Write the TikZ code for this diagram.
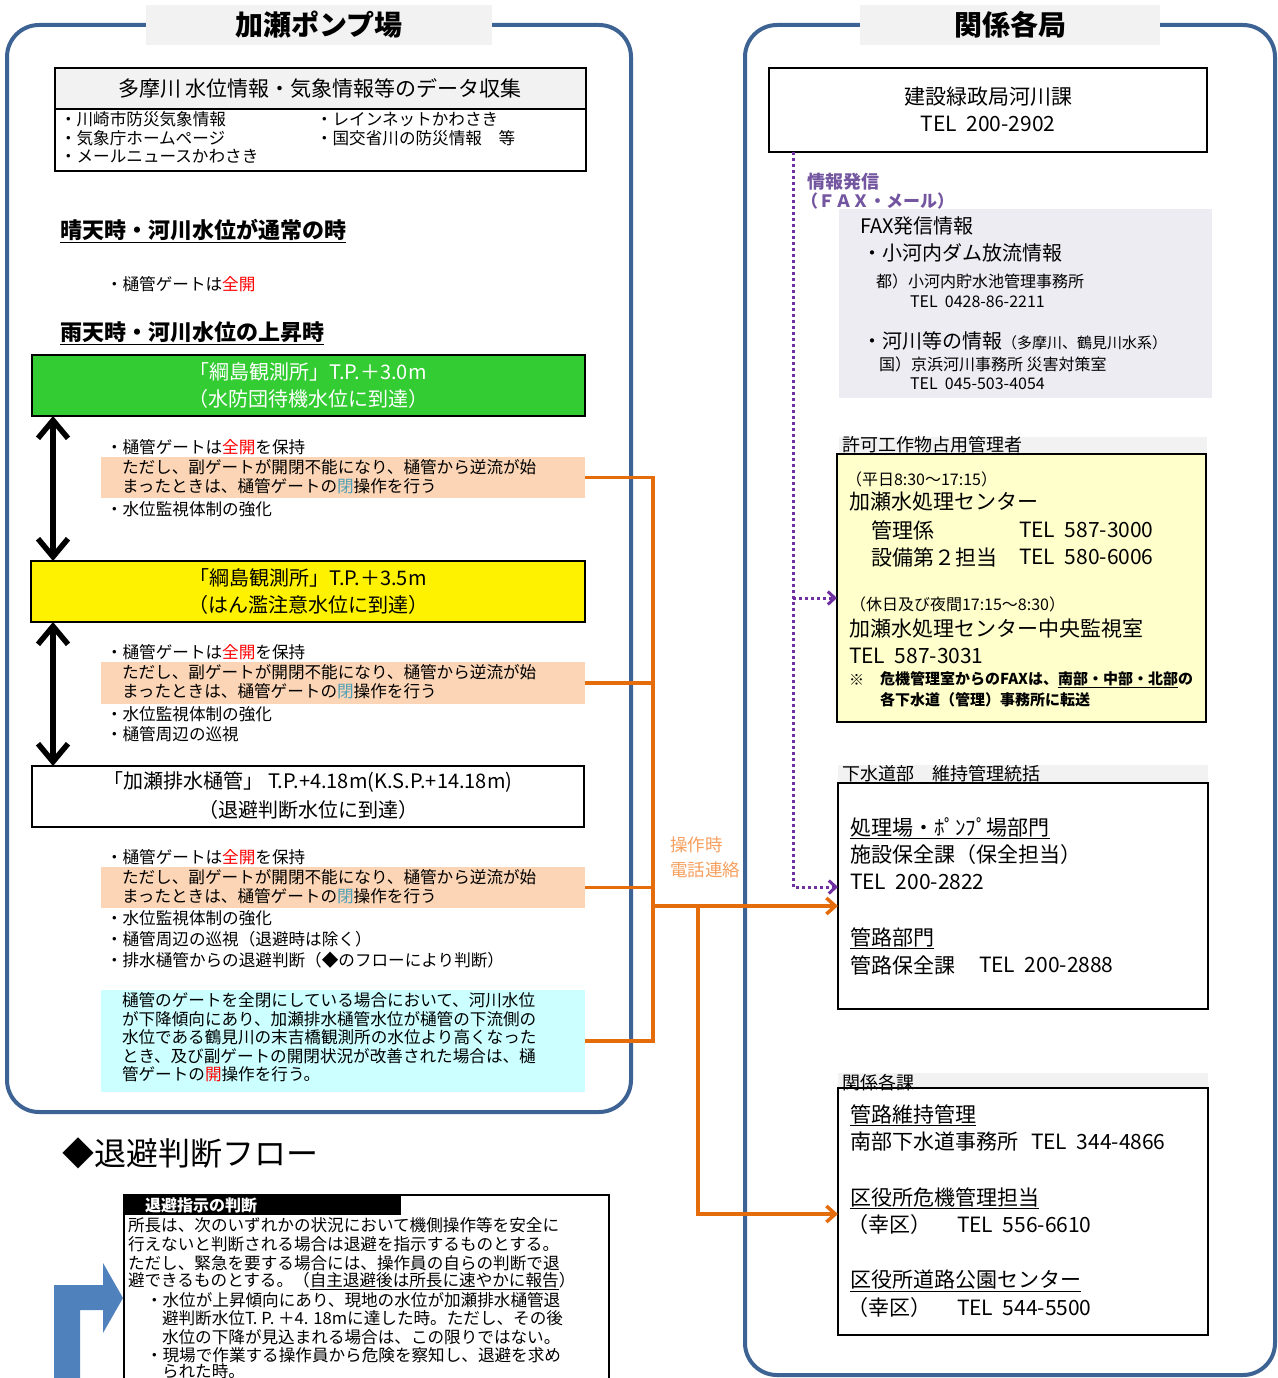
\documentclass[tikz,border=0pt]{standalone}
\usepackage{fontspec}
\setmainfont{Noto Sans CJK JP}
\usetikzlibrary{arrows.meta}
\newcommand\fsz[1]{\fontsize{#1pt}{#1pt}\selectfont}
\definecolor{panelblue}{RGB}{61,99,148}
\definecolor{titlegray}{RGB}{242,242,242}
\definecolor{boxgreen}{RGB}{51,204,51}
\definecolor{peach}{RGB}{251,213,181}
\definecolor{lcyan}{RGB}{204,255,255}
\definecolor{orng}{RGB}{228,108,10}
\definecolor{lorng}{RGB}{247,160,95}
\definecolor{purp}{RGB}{112,48,160}
\definecolor{purptext}{RGB}{115,85,160}
\definecolor{faxgray}{RGB}{238,236,243}
\definecolor{lyellow}{RGB}{255,255,204}
\definecolor{gatebl}{RGB}{80,160,185}
\definecolor{arrblue}{RGB}{79,129,189}
\definecolor{myred}{RGB}{255,0,0}
\begin{document}
\begin{tikzpicture}[x=1pt,y=-1pt,
  every node/.style={inner sep=0pt,outer sep=0pt},
  ln/.style={anchor=west},
  sm/.style={ln,font=\fsz{16.6}},
  rt/.style={ln,font=\fsz{21}},
  rs/.style={ln,font=\fsz{16}},
  panel/.style={draw=panelblue,line width=4pt,rounded corners=32pt},
  ttl/.style={fill=titlegray,minimum height=40pt,font=\fsz{28}\bfseries},
  bbox/.style={draw=black,line width=2pt},
  lab/.style={fill=titlegray,minimum width=370pt},
  band/.style={minimum width=484pt},
  oline/.style={draw=orng,line width=3.5pt},
  oarr/.style={oline,-{Straight Barb[length=9pt,width=16pt]}},
  pdot/.style={draw=purp,line width=3pt,dash pattern=on 3pt off 3pt},
  parr/.style={pdot,-{Straight Barb[length=7pt,width=13pt]}},
  dbl/.style={line width=5.5pt,{Straight Barb[length=18pt,width=30pt]}-{Straight Barb[length=18pt,width=30pt]}}
]
\useasboundingbox (0,0) rectangle (1277,1378);
\fill[white] (0,0) rectangle (1277,1378);

% ---------------- left panel ----------------
\draw[panel] (7,25) rectangle (631,1112);
\node[ttl,minimum width=346pt] (ltitle) at (319,25) {加瀬ポンプ場};

\node[fill=titlegray,draw,line width=1.5pt,minimum width=531pt,minimum height=41pt] (dhead) at (320.5,88.5) {};
\node[draw,line width=1.5pt,minimum width=531pt,minimum height=62pt] (dbody) at (320.5,140) {};
\node[font=\fsz{21}] (dtitle) at (320,88) {多摩川\ 水位情報・気象情報等のデータ収集};
\node[sm] (d1) at (60,119) {・川崎市防災気象情報};
\node[sm] (d2) at (60,138) {・気象庁ホームページ};
\node[sm] (d3) at (60,156) {・メールニュースかわさき};
\node[sm] (d4) at (316,119) {・レインネットかわさき};
\node[sm] (d5) at (316,138) {・国交省川の防災情報　等};

\node[ln,font=\fsz{22}\bfseries] (h1) at (60,231) {\underline{晴天時・河川水位が通常の時}};
\node[sm] (s0) at (106,284) {・樋管ゲートは{\color{myred}全開}};
\node[ln,font=\fsz{22}\bfseries] (h2) at (60,333) {\underline{雨天時・河川水位の上昇時}};

\node[bbox,fill=boxgreen,minimum width=553pt,minimum height=61pt] (gbox) at (308.5,385.5) {};
\node[font=\fsz{20},text=white] (g1) at (308,372) {「綱島観測所」T.P.＋3.0m};
\node[font=\fsz{20},text=white] (g2) at (308,399) {（水防団待機水位に到達）};

\node[bbox,fill=yellow,minimum width=554pt,minimum height=61pt] (ybox) at (308,591.5) {};
\node[font=\fsz{20}] (y1) at (308,578) {「綱島観測所」T.P.＋3.5m};
\node[font=\fsz{20}] (y2) at (308,605) {（はん濫注意水位に到達）};

\node[bbox,fill=white,minimum width=552pt,minimum height=61pt] (wbox) at (308,796.5) {};
\node[font=\fsz{20}] (w1) at (308,782) {「加瀬排水樋管」 T.P.+4.18m(K.S.P.+14.18m)};
\node[font=\fsz{20}] (w2) at (308,810) {（退避判断水位に到達）};

\coordinate (u1) at (53,500);
\draw[dbl] (gbox.south -| u1) -- (ybox.north -| u1);
\draw[dbl] (ybox.south -| u1) -- (wbox.north -| u1);

% block 1
\node[sm] (a1) at (106,447) {・樋管ゲートは{\color{myred}全開}を保持};
\node[band,fill=peach,minimum height=41pt] (pb1) at (343,477.5) {};
\node[sm] (a2) at (122,467) {ただし、副ゲートが開閉不能になり、樋管から逆流が始};
\node[sm] (a3) at (122,486) {まったときは、樋管ゲートの{\color{gatebl}閉}操作を行う};
\node[sm] (a4) at (106,509) {・水位監視体制の強化};
% block 2
\node[sm] (b1) at (106,652) {・樋管ゲートは{\color{myred}全開}を保持};
\node[band,fill=peach,minimum height=42pt] (pb2) at (343,683) {};
\node[sm] (b2) at (122,672) {ただし、副ゲートが開閉不能になり、樋管から逆流が始};
\node[sm] (b3) at (122,691) {まったときは、樋管ゲートの{\color{gatebl}閉}操作を行う};
\node[sm] (b4) at (106,714) {・水位監視体制の強化};
\node[sm] (b5) at (106,734) {・樋管周辺の巡視};
% block 3
\node[sm] (c1) at (106,857) {・樋管ゲートは{\color{myred}全開}を保持};
\node[band,fill=peach,minimum height=41pt] (pb3) at (343,887.5) {};
\node[sm] (c2) at (122,877) {ただし、副ゲートが開閉不能になり、樋管から逆流が始};
\node[sm] (c3) at (122,896) {まったときは、樋管ゲートの{\color{gatebl}閉}操作を行う};
\node[sm] (c4) at (106,918) {・水位監視体制の強化};
\node[sm] (c5) at (106,939) {・樋管周辺の巡視（退避時は除く）};
\node[sm] (c6) at (106,960) {・排水樋管からの退避判断（◆のフローにより判断）};
% cyan
\node[band,fill=lcyan,minimum height=102pt] (cy) at (343,1041) {};
\node[sm] (e1) at (122,1000) {樋管のゲートを全閉にしている場合において、河川水位};
\node[sm] (e2) at (122,1019) {が下降傾向にあり、加瀬排水樋管水位が樋管の下流側の};
\node[sm] (e3) at (122,1037) {水位である鶴見川の末吉橋観測所の水位より高くなった};
\node[sm] (e4) at (122,1056) {とき、及び副ゲートの開閉状況が改善された場合は、樋};
\node[sm] (e5) at (122,1074) {管ゲートの{\color{myred}開}操作を行う。};

% ---------------- flow ----------------
\node[ln,font=\fsz{32}] (fl) at (62,1153) {◆退避判断フロー};
\draw[line width=1.5pt] (124,1380) -- (124,1195) -- (609,1195) -- (609,1380);
\node[fill=black,minimum width=277pt,minimum height=20pt] (fh) at (262.5,1205) {};
\node[ln,font=\fsz{16}\bfseries,text=white] (fht) at (145,1205) {退避指示の判断};
\node[ln,font=\fsz{16.6}] (f1) at (128,1225) {所長は、次のいずれかの状況において機側操作等を安全に};
\node[ln,font=\fsz{16.6}] (f2) at (128,1244) {行えないと判断される場合は退避を指示するものとする。};
\node[ln,font=\fsz{16.6}] (f3) at (128,1263) {ただし、緊急を要する場合には、操作員の自らの判断で退};
\node[ln,font=\fsz{16.6}] (f4) at (128,1281) {避できるものとする。（\underline{自主退避後は所長に速やかに報告}）};
\node[ln,font=\fsz{16.6}] (f5) at (146,1300) {・水位が上昇傾向にあり、現地の水位が加瀬排水樋管退};
\node[ln,font=\fsz{16.6}] (f6) at (162,1318) {避判断水位T. P. ＋4. 18mに達した時。ただし、その後};
\node[ln,font=\fsz{16.6}] (f7) at (162,1337) {水位の下降が見込まれる場合は、この限りではない。};
\node[ln,font=\fsz{16.6}] (f8) at (146,1355) {・現場で作業する操作員から危険を察知し、退避を求め};
\node[ln,font=\fsz{16.6}] (f9) at (162,1371) {られた時。};
\fill[arrblue] (54,1380) -- (54,1285) -- (103,1285) -- (103,1263) -- (123,1298)
  -- (103,1333) -- (103,1310) -- (80,1310) -- (80,1380) -- cycle;

% ---------------- right panel ----------------
\draw[panel] (745,25) rectangle (1275,1375);
\node[ttl,minimum width=300pt] (rtitle) at (1010,25) {関係各局};

\node[bbox,minimum width=438pt,minimum height=84pt] (kasen) at (988,110) {};
\node[font=\fsz{21}] (k1) at (988,97) {建設緑政局河川課};
\node[font=\fsz{21}] (k2) at (988,124) {TEL~~200-2902};

\node[ln,font=\fsz{18}\bfseries,text=purptext] (jh1) at (807,182) {情報発信};
\node[ln,font=\fsz{17}\bfseries,text=purptext] (jh2) at (801,201) {（ＦＡＸ・メール）};

\node[fill=faxgray,minimum width=373pt,minimum height=189pt] (fax) at (1025.5,303.5) {};
\node[ln,font=\fsz{20}] (x1) at (860,226) {FAX発信情報};
\node[ln,font=\fsz{20}] (x2) at (862,253) {・小河内ダム放流情報};
\node[rs] (x3) at (876,281) {都）小河内貯水池管理事務所};
\node[rs] (x4) at (910,302) {TEL~~0428-86-2211};
\node[ln,font=\fsz{20}] (x5) at (862,341) {・河川等の情報{\fsz{15}（多摩川、鶴見川水系）}};
\node[rs] (x6) at (879,364) {国）京浜河川事務所\ 災害対策室};
\node[rs] (x7) at (910,384) {TEL~~045-503-4054};

\node[lab,minimum width=368pt,minimum height=17pt] (l1) at (1023,445.5) {};
\node[ln,font=\fsz{18}] (l1t) at (842,445) {許可工作物占用管理者};
\node[bbox,fill=lyellow,minimum width=369pt,minimum height=268pt] (ybx) at (1021.5,588) {};
\node[rs] (v1) at (846,479) {（平日8:30～17:15）};
\node[rt] (v2) at (849,502) {加瀬水処理センター};
\node[rt] (v3) at (871,530) {管理係};
\node[rt] (v4) at (1019,530) {TEL~~587-3000};
\node[rt] (v5) at (871,557) {設備第２担当};
\node[rt] (v6) at (1019,557) {TEL~~580-6006};
\node[rs] (v7) at (850,604) {（休日及び夜間17:15～8:30）};
\node[rt] (v8) at (849,629) {加瀬水処理センター中央監視室};
\node[rt] (v9) at (849,656) {TEL~~587-3031};
\node[ln,font=\fsz{15}\bfseries] (v10) at (849,680) {※};
\node[ln,font=\fsz{15}\bfseries] (v11) at (880,680) {危機管理室からのFAXは、\underline{南部・中部・北部}の};
\node[ln,font=\fsz{15}\bfseries] (v12) at (880,700) {各下水道（管理）事務所に転送};

\node[lab,minimum height=18pt] (l2) at (1023,774) {};
\node[ln,font=\fsz{18}] (l2t) at (842,774) {下水道部　維持管理統括};
\node[bbox,minimum width=370pt,minimum height=226pt] (gbx) at (1023,896) {};
\node[rt] (g3) at (850,828) {\underline{処理場・ﾎﾟﾝﾌﾟ場部門}};
\node[rt] (g4) at (850,855) {施設保全課（保全担当）};
\node[rt] (g5) at (850,882) {TEL~~200-2822};
\node[rt] (g6) at (850,938) {\underline{管路部門}};
\node[rt] (g7) at (850,965) {管路保全課};
\node[rt] (g8) at (979,965) {TEL~~200-2888};

\node[lab,minimum height=15pt] (l3) at (1023,1080.5) {};
\node[ln,font=\fsz{18}] (l3t) at (842,1083) {関係各課};
\node[bbox,minimum width=370pt,minimum height=247pt] (kbx) at (1023,1211.5) {};
\node[rt] (m1) at (850,1115) {\underline{管路維持管理}};
\node[rt] (m2) at (850,1142) {南部下水道事務所};
\node[rt] (m3) at (1031,1142) {TEL~~344-4866};
\node[rt] (m4) at (850,1198) {\underline{区役所危機管理担当}};
\node[rt] (m5) at (847,1225) {（幸区）};
\node[rt] (m6) at (957,1225) {TEL~~556-6610};
\node[rt] (m7) at (850,1281) {\underline{区役所道路公園センター}};
\node[rt] (m8) at (847,1308) {（幸区）};
\node[rt] (m9) at (957,1308) {TEL~~544-5500};

% ---------------- purple dotted connectors ----------------
\coordinate (pv) at (793,500);
\coordinate (pp1) at (793,598);
\coordinate (pp2) at (793,887);
\draw[parr] (kasen.south -| pv) -- (pp2) -- (pp2 -| gbx.west);
\draw[parr] (pp1) -- (pp1 -| ybx.west);

% ---------------- orange connectors ----------------
\coordinate (bus) at (653,500);
\draw[oline] (pb1.east) -- (pb1.east -| bus) -- (cy.east -| bus) -- (cy.east);
\draw[oline] (pb2.east) -- (pb2.east -| bus);
\draw[oline] (pb3.east) -- (pb3.east -| bus);
\coordinate (oj) at (653,906);
\coordinate (oj2) at (698,906);
\coordinate (oj3) at (698,1214);
\draw[oarr] (oj) -- (oj -| gbx.west);
\draw[oarr] (oj2) -- (oj3) -- (oj3 -| kbx.west);
\node[ln,font=\fsz{17.5},text=lorng] (op1) at (670,845) {操作時};
\node[ln,font=\fsz{17.5},text=lorng] (op2) at (670,870) {電話連絡};
\end{tikzpicture}
\end{document}
